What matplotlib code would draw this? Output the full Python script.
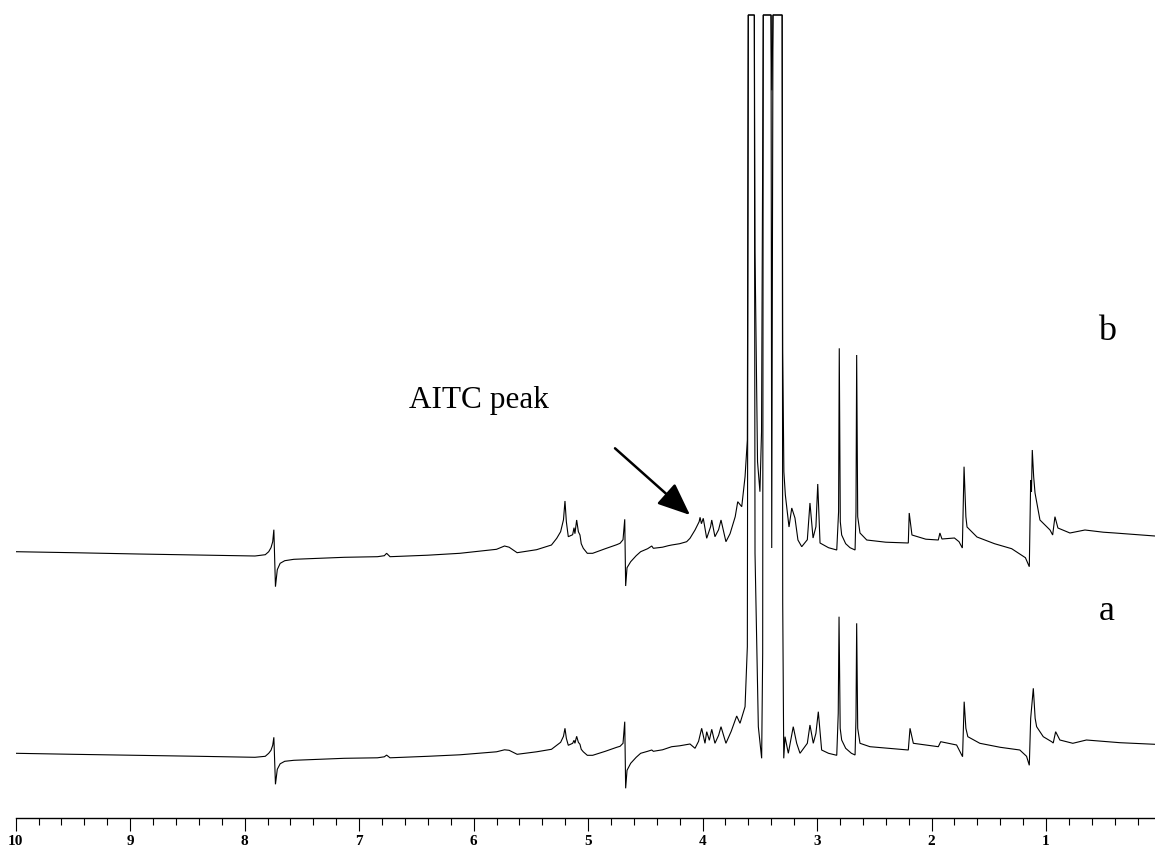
import numpy as np
import matplotlib
matplotlib.use('Agg')
import matplotlib.pyplot as plt
from matplotlib.ticker import MultipleLocator

# ---------------- data (chemical shift in ppm, intensity in a.u.) ----------------
ppm_b = [10.00, 9.50, 8.93, 8.40, 7.91, 7.82, 7.79, 7.77, 7.755, 7.745, 7.731, 7.715, 7.69, 7.65, 7.57,
         7.13, 6.84, 6.78, 6.76, 6.73, 6.40, 6.12, 5.80, 5.73, 5.69, 5.62, 5.45, 5.32, 5.274, 5.24,
         5.215, 5.202, 5.19, 5.173, 5.135, 5.123, 5.115, 5.100, 5.085, 5.071, 5.06, 5.042, 5.007, 4.96,
         4.85, 4.75, 4.721, 4.695, 4.680, 4.672, 4.66, 4.628, 4.58, 4.541, 4.48, 4.444, 4.43, 4.35,
         4.30, 4.27, 4.20, 4.139, 4.110, 4.066, 4.03, 4.022, 4.010, 3.994, 3.964, 3.945, 3.930, 3.920,
         3.892, 3.860, 3.839, 3.796, 3.760, 3.732, 3.715, 3.693, 3.658, 3.629, 3.609, 3.601, 3.548,
         3.542, 3.520, 3.499, 3.485, 3.470, 3.402, 3.396, 3.385, 3.305, 3.300, 3.290, 3.277, 3.245,
         3.221, 3.193, 3.167, 3.134, 3.085, 3.062, 3.035, 3.010, 2.994, 2.974, 2.90, 2.828, 2.812,
         2.806, 2.797, 2.785, 2.75, 2.712, 2.668, 2.660, 2.654, 2.645, 2.625, 2.566, 2.40, 2.203,
         2.195, 2.171, 2.05, 1.941, 1.927, 1.909, 1.80, 1.76, 1.731, 1.716, 1.700, 1.690, 1.603,
         1.45, 1.30, 1.242, 1.18, 1.146, 1.138, 1.134, 1.127, 1.120, 1.108, 1.096, 1.053, 0.965,
         0.942, 0.922, 0.896, 0.791, 0.660, 0.50, 0.398, 0.049]
int_b = [0, -1, -2.3, -3.3, -4.3, -3, 0, 4, 10, 22, -35, -18, -11.6, -9, -7.6,
         -5.6, -5, -4, -1.6, -5, -3.5, -1.6, 2.4, 5.7, 4.5, -1, 2, 6.7, 13.4, 20,
         32, 50.7, 30, 15, 17, 24, 18, 31.7, 20, 16.7, 8, 3.4, -1.6, -1.6,
         3, 7, 8.4, 12, 32.4, -34.3, -16, -10, -4, 0, 3, 5.7, 3.4, 4.5,
         6, 6.7, 8, 10, 13.4, 21.7, 30, 34.4, 28, 33.4, 13.4, 20, 25, 31.7,
         15, 22, 31.7, 10, 18, 28.4, 35, 50, 45, 75, 111.7, 1400, 1400,
         300, 90, 60, 120, 1200, 1200, 3.7, 1100, 1100, 200, 80, 56.7, 24.7,
         43.7, 33.7, 11.7, 5, 12, 48.7, 13.7, 25, 67.7, 8.7, 4, 1.7, 40,
         203.4, 30, 16.7, 8, 4, 1.7, 40, 196.7, 35, 18.7, 11.7, 9.5, 8.7,
         38.7, 16.7, 12.5, 11.7, 18.7, 12.7, 13.7, 10, 3.7, 85, 35, 24.7, 14.7,
         8, 3, -1.3, -6, -15, 40, 71.7, 60, 101.7, 75, 58.7, 31.7, 21.7,
         16.7, 35, 23.7, 18.7, 21.7, 19.5, 18.7, 15.7]

ppm_a = [10.00, 9.50, 8.93, 8.40, 7.91, 7.82, 7.79, 7.77, 7.755, 7.745, 7.731, 7.715, 7.69, 7.65, 7.57,
         7.13, 6.84, 6.78, 6.76, 6.73, 6.40, 6.12, 5.80, 5.73, 5.69, 5.62, 5.45, 5.32, 5.274, 5.24,
         5.215, 5.202, 5.19, 5.173, 5.135, 5.123, 5.115, 5.100, 5.085, 5.071, 5.06, 5.042, 5.007, 4.96,
         4.85, 4.75, 4.721, 4.695, 4.680, 4.672, 4.66, 4.628, 4.58, 4.541, 4.48, 4.444, 4.43, 4.35,
         4.27, 4.20, 4.110, 4.066, 4.035, 4.008, 3.979, 3.964, 3.941, 3.920, 3.892, 3.860, 3.839,
         3.796, 3.750, 3.702, 3.673, 3.629, 3.609, 3.601, 3.548, 3.542, 3.513, 3.484, 3.475, 3.470,
         3.402, 3.395, 3.385, 3.305, 3.300, 3.291, 3.280, 3.251, 3.208, 3.178, 3.149, 3.085, 3.062,
         3.033, 3.010, 2.989, 2.960, 2.90, 2.828, 2.815, 2.808, 2.798, 2.785, 2.75, 2.700, 2.668,
         2.660, 2.654, 2.645, 2.625, 2.538, 2.203, 2.188, 2.159, 1.941, 1.920, 1.781, 1.729, 1.715,
         1.700, 1.683, 1.578, 1.40, 1.229, 1.17, 1.146, 1.134, 1.111, 1.095, 1.082, 1.024, 0.951,
         0.937, 0.916, 0.879, 0.766, 0.647, 0.354, 0.049]
int_a = [0, -1, -2, -3, -4, -3, 0, 3, 8, 16, -31, -16, -10.5, -8, -7,
         -5, -4.5, -3.5, -1.8, -4.5, -3, -1.5, 1.5, 3.5, 3, -1, 1.5, 4, 8, 11,
         17, 25, 15, 8, 10, 13, 10, 17, 11, 9, 4, 1.5, -2, -2,
         2, 6, 7, 10, 31.6, -35, -17, -10, -4, 0, 2, 3.3, 2, 3.5,
         6.6, 7.5, 9.3, 5, 12, 25, 10, 21.6, 13, 24, 10, 18, 26.6,
         10, 22, 37.3, 30, 46.6, 106.6, 1400, 1400, 200, 26.6, -5, 100, 1300,
         1300, 663, 1300, 1300, 150, -5, 16.6, 0, 26.6, 10, 0, 10, 28.3,
         10, 20, 41.6, 3.3, 0, -2, 40, 136.6, 25, 13.3, 5, 0, -1.7,
         35, 130, 25, 10, 6.6, 3.3, 25, 10, 6.6, 11.6, 8.3, -3.4, 51.6,
         25, 16.6, 10, 6, 3.3, -3, -12, 35, 65, 35, 26.6, 16.6, 11.6,
         10.3, 21.6, 13.3, 10, 13.3, 10.6, 9]

tick_values = [10, 9, 8, 7, 6, 5, 4, 3, 2, 1]
trace_labels = ['a', 'b']
annotation_text = 'AITC peak'

# ---------------- layout constants ----------------
W, H = 1155, 852
OFFSET_A = 64.7     # vertical stacking offsets of the two spectra
OFFSET_B = 266.3
CLIP = 803          # display clipping level (top of plotting window)
YMAX = 806

plt.rcParams['font.family'] = ['Liberation Serif', 'DejaVu Serif']

fig = plt.figure(figsize=(W / 100, H / 100), dpi=100)
ax_left = 15.7 / W
ax_bottom = (H - 818) / H
ax = fig.add_axes([ax_left, ax_bottom, 1 - ax_left, YMAX / H])

ya = np.minimum(OFFSET_A + np.asarray(int_a), CLIP)
yb = np.minimum(OFFSET_B + np.asarray(int_b), CLIP)
ax.plot(ppm_a, ya, color='black', lw=0.8, solid_joinstyle='miter')
ax.plot(ppm_b, yb, color='black', lw=0.8, solid_joinstyle='miter')

ax.set_xlim(10, 10 - (W - 15.7) / 114.48)
ax.set_ylim(0, YMAX)

for s in ['left', 'right', 'top']:
    ax.spines[s].set_visible(False)
ax.spines['bottom'].set_linewidth(1.0)
ax.set_yticks([])
ax.set_xticks(tick_values)
ax.set_xticklabels([str(v) for v in tick_values], fontsize=11, fontweight='bold')
ax.xaxis.set_minor_locator(MultipleLocator(0.2))
ax.tick_params(axis='x', which='major', direction='out', length=9.5, width=0.8, pad=3)
ax.tick_params(axis='x', which='minor', direction='out', length=5, width=0.8)

# trace labels
ax.text(0.47, OFFSET_A + 133, trace_labels[0], fontsize=26, ha='center', va='baseline')
ax.text(0.47, OFFSET_B + 212, trace_labels[1], fontsize=26, ha='center', va='baseline')

# annotation
ax.text(6.564, 410.3, annotation_text, fontsize=22.5, ha='left', va='baseline')
ax.annotate('', xy=(4.110, 303), xytext=(4.765, 369.7),
            arrowprops=dict(arrowstyle='-|>,head_length=1.0,head_width=0.42',
                            mutation_scale=20, lw=1.8, color='black',
                            shrinkA=0, shrinkB=0))

fig.savefig('out.png', dpi=100)
